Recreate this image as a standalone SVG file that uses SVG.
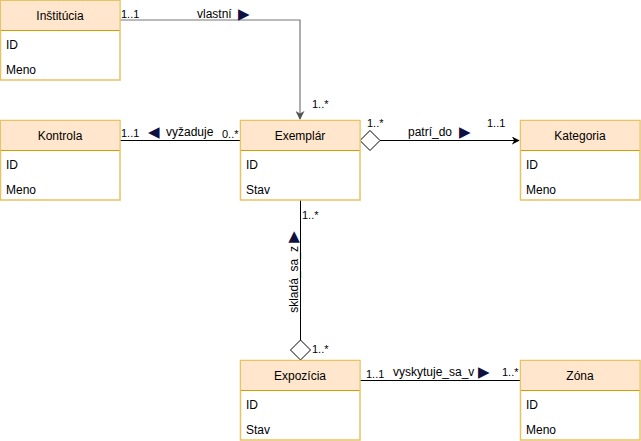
<svg xmlns="http://www.w3.org/2000/svg" width="641" height="441" viewBox="0 0 641 441">
<defs>
<style>
.box{fill:#ffffff;stroke:#e9c262;stroke-width:1.5}
.hdr{fill:#ffe6cc;stroke:none}
.div{stroke:#d79b00;stroke-width:1}
.t{font-family:"Liberation Sans",Arial,sans-serif;font-size:12px;fill:#000}
.c{text-anchor:middle}
.m{font-family:"Liberation Sans",Arial,sans-serif;font-size:11px;fill:#000}
.tri{font-family:"DejaVu Sans",sans-serif;font-size:15px;fill:#101040}
.e{fill:none;stroke:#000;stroke-width:1}
.g{fill:none;stroke:#777;stroke-width:1.2}
.dia{fill:#fff;stroke:#000;stroke-width:1}
</style>
<marker id="arr" viewBox="0 0 10 10" refX="9" refY="5" markerWidth="8" markerHeight="8" markerUnits="userSpaceOnUse" orient="auto">
<path d="M0,0 L10,5 L0,10 L3,5 z" fill="#000"/>
</marker>
<marker id="arrg" viewBox="0 0 10 10" refX="9" refY="5" markerWidth="9" markerHeight="9" markerUnits="userSpaceOnUse" orient="auto">
<path d="M0,0 L10,5 L0,10 L3,5 z" fill="#555"/>
</marker>
</defs>

<g id="connectors">
<g id="e-vlastni">
<path class="g" d="M120,20 L300,20 L300,119" marker-end="url(#arrg)"/>
<text class="m" x="121" y="18">1..1</text>
<text class="t" x="197" y="18">vlastní<tspan class="tri" x="238" y="19">▶</tspan></text>
<text class="m" x="312" y="107.5">1..*</text>
</g>
<g id="e-vyzaduje">
<path class="e" d="M120,140.5 L240,140.5"/>
<text class="m" x="121" y="136.5">1..1</text>
<text class="t" x="148" y="137"><tspan class="tri">◀</tspan><tspan x="166" y="136">vyžaduje</tspan></text>
<text class="m" x="222" y="138">0..*</text>
</g>
<g id="e-patri">
<path class="e" d="M380,140.5 L519,140.5" marker-end="url(#arr)"/>
<polygon class="dia" points="360,140.5 370,130.5 380,140.5 370,150.5"/>
<text class="m" x="367" y="126.5">1..*</text>
<text class="t" x="408" y="136">patrí_do<tspan class="tri" x="459" y="137">▶</tspan></text>
<text class="m" x="487" y="127">1..1</text>
</g>
<g id="e-sklada">
<path class="e" d="M300.5,200 L300.5,340"/>
<polygon class="dia" points="300.5,360 310.5,350 300.5,340 290.5,350"/>
<text class="m" x="302" y="219">1..*</text>
<text class="t c" transform="translate(298,272) rotate(-90)">skladá_sa_z <tspan class="tri">▶</tspan></text>
<text class="m" x="312" y="352.5">1..*</text>
</g>
<g id="e-vyskytuje">
<path class="e" d="M360,380.5 L520,380.5"/>
<text class="m" x="366" y="378">1..1</text>
<text class="t" x="393" y="376">vyskytuje_sa_v<tspan class="tri" x="478" y="377">▶</tspan></text>
<text class="m" x="502" y="376">1..*</text>
</g>
</g>

<g id="institucia">
<rect class="box" x="0.5" y="0.5" width="119.5" height="79.5"/>
<rect class="hdr" x="1.25" y="1.25" width="118" height="29"/>
<line class="div" x1="1" y1="30.5" x2="119.5" y2="30.5"/>
<text class="t c" x="60" y="19.5">Inštitúcia</text>
<text class="t" x="6" y="49">ID</text>
<text class="t" x="6" y="73.5">Meno</text>
</g>

<g id="kontrola">
<rect class="box" x="0.5" y="120.5" width="119.5" height="79.5"/>
<rect class="hdr" x="1.25" y="121.25" width="118" height="29"/>
<line class="div" x1="1" y1="150.5" x2="119.5" y2="150.5"/>
<text class="t c" x="60" y="139.5">Kontrola</text>
<text class="t" x="6" y="169">ID</text>
<text class="t" x="6" y="193.5">Meno</text>
</g>

<g id="exemplar">
<rect class="box" x="240.5" y="120.5" width="119.5" height="79.5"/>
<rect class="hdr" x="241.25" y="121.25" width="118" height="29"/>
<line class="div" x1="241" y1="150.5" x2="359.5" y2="150.5"/>
<text class="t c" x="300" y="139.5">Exemplár</text>
<text class="t" x="246" y="169">ID</text>
<text class="t" x="246" y="193.5">Stav</text>
</g>

<g id="kategoria">
<rect class="box" x="520.5" y="120.5" width="119.5" height="79.5"/>
<rect class="hdr" x="521.25" y="121.25" width="118" height="29"/>
<line class="div" x1="521" y1="150.5" x2="639.5" y2="150.5"/>
<text class="t c" x="580" y="139.5">Kategoria</text>
<text class="t" x="526" y="169">ID</text>
<text class="t" x="526" y="193.5">Meno</text>
</g>

<g id="expozicia">
<rect class="box" x="240.5" y="360.5" width="119.5" height="79.5"/>
<rect class="hdr" x="241.25" y="361.25" width="118" height="29"/>
<line class="div" x1="241" y1="390.5" x2="359.5" y2="390.5"/>
<text class="t c" x="300" y="379.5">Expozícia</text>
<text class="t" x="246" y="409">ID</text>
<text class="t" x="246" y="433.5">Stav</text>
</g>

<g id="zona">
<rect class="box" x="520.5" y="360.5" width="119.5" height="79.5"/>
<rect class="hdr" x="521.25" y="361.25" width="118" height="29"/>
<line class="div" x1="521" y1="390.5" x2="639.5" y2="390.5"/>
<text class="t c" x="580" y="379.5">Zóna</text>
<text class="t" x="526" y="409">ID</text>
<text class="t" x="526" y="433.5">Meno</text>
</g>
</svg>
